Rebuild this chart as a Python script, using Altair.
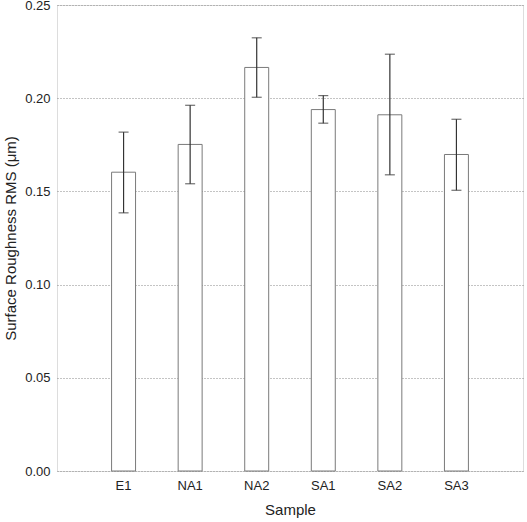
import altair as alt
import pandas as pd

samples = ["E1", "NA1", "NA2", "SA1", "SA2", "SA3"]
means = [0.1603, 0.1752, 0.2165, 0.1939, 0.1911, 0.1698]
err_low = [0.1385, 0.1541, 0.2005, 0.1866, 0.1589, 0.1506]
err_high = [0.1818, 0.1962, 0.2324, 0.2014, 0.2236, 0.1887]

df = pd.DataFrame({"Sample": samples, "mean": means, "lo": err_low, "hi": err_high})

FONT = "Liberation Sans"

xenc = alt.X("Sample:N", sort=samples,
             scale=alt.Scale(paddingInner=0.64, paddingOuter=0.82),
             axis=alt.Axis(title="Sample", labelAngle=0, ticks=False, domain=False,
                           labelPadding=8, titlePadding=10, labelFontSize=13,
                           titleFontSize=15, labelColor="#222", titleColor="#222",
                           labelFont=FONT, titleFont=FONT, titleFontWeight="normal"))
yscale = alt.Scale(domain=[0, 0.25], nice=False)

bars = alt.Chart(df).mark_bar(fill="white", stroke="#7a7a7a", strokeWidth=1).encode(
    x=xenc,
    y=alt.Y("mean:Q", scale=yscale,
            axis=alt.Axis(title="Surface Roughness RMS (μm)", values=[0, 0.05, 0.10, 0.15, 0.20, 0.25],
                          format=".2f", ticks=False, domain=False, labelPadding=7,
                          titlePadding=6, labelFontSize=13, titleFontSize=15,
                          labelColor="#222", titleColor="#222", labelFont=FONT,
                          titleFont=FONT, titleFontWeight="normal",
                          grid=True, gridDash=[1, 2], gridColor="#888", gridWidth=1)),
)

rules = alt.Chart(df).mark_rule(color="#333", strokeWidth=1.2).encode(
    x=alt.X("Sample:N", sort=samples), y=alt.Y("lo:Q", scale=yscale), y2="hi:Q")
cap_lo = alt.Chart(df).mark_tick(color="#333", size=10, thickness=1.2).encode(
    x=alt.X("Sample:N", sort=samples), y=alt.Y("lo:Q", scale=yscale))
cap_hi = alt.Chart(df).mark_tick(color="#333", size=10, thickness=1.2).encode(
    x=alt.X("Sample:N", sort=samples), y=alt.Y("hi:Q", scale=yscale))

chart = alt.layer(bars, rules, cap_lo, cap_hi).properties(
    width=466, height=466,
    autosize=alt.AutoSizeParams(type="none"),
    padding={"left": 57, "top": 5, "right": 4, "bottom": 51},
).configure_view(stroke="#333", strokeWidth=1.2).configure(background="white")

chart.save("out.html", embed_options={"renderer": "svg", "actions": False})
